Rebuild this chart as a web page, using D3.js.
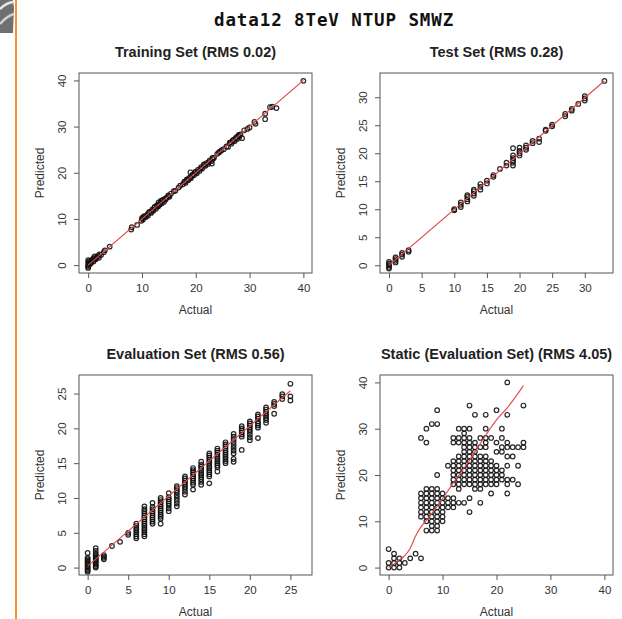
<!DOCTYPE html>
<html>
<head>
<meta charset="utf-8">
<script src="https://cdn.jsdelivr.net/npm/d3@7"></script>
<style>
  body { margin: 0; background: #fff; }
  svg { display: block; }
</style>
</head>
<body>
<div id="chart"></div>
<script>
// ---- data ----
const pageTitle = "data12 8TeV NTUP SMWZ";
const panelTitles = ["Training Set (RMS 0.02)", "Test Set (RMS 0.28)", "Evaluation Set (RMS 0.56)", "Static (Evaluation Set) (RMS 4.05)"];
const xLabel = "Actual";
const yLabel = "Predicted";

// axis limits (R uses the same range on both axes) and tick values
const panelLimits = [[-0.1, 40], [-0.06, 33], [0, 26.6], [0, 40]];
const panelTicks = [[0, 10, 20, 30, 40], [0, 5, 10, 15, 20, 25, 30], [0, 5, 10, 15, 20, 25], [0, 10, 20, 30, 40]];

// training set: actual / predicted pairs
const trainActual = [0, 0, 0, 0.1, 0, 0.2, 0, 0.3, 0.5, 0.6, 0.8, 1.0, 1.0, 1.2, 1.4, 1.6, 1.8, 2.0, 2.1, 2.4, 2.9, 3.1, 4,
  8, 8.1, 9.1, 9.9, 10.0, 10.2, 10.4, 10.7, 11.0, 11.1, 11.4, 11.7, 11.9, 12.1, 12.3, 12.6, 12.8, 13.0, 13.1, 13.3, 13.5,
  13.7, 13.9, 14.1, 14.3, 14.6, 14.9, 15.1, 15.4, 15.9, 16.2, 16.8, 17.1, 17.6, 17.9, 18.1, 18.3, 18.6, 18.9, 19.1, 19.0,
  19.4, 19.7, 19.9, 20.2, 20.4, 20.7, 21.0, 21.2, 21.5, 21.8, 22.0, 22.3, 22.6, 22.9, 23.1, 23.0, 23.4, 24.0, 24.3, 24.8,
  25.2, 25.7, 26.0, 26.3, 26.6, 26.9, 27.2, 27.4, 27.7, 27.9, 28.1, 28.3, 28.6, 29.0, 29.6, 30.0, 30.9, 31.1, 32.9, 32.9,
  33.8, 34.2, 35.0, 40,
  10.1, 10.6, 11.3, 11.8, 12.4, 12.9, 13.4, 13.8, 14.4, 15.0, 17.9, 18.5, 19.3, 20.0, 20.9, 21.6, 22.4, 23.2, 24.5, 26.5,
  27.0, 27.6, 28.0, 0.4, 0.9, 1.3];
const trainPredicted = [-0.6, -0.3, 0, 0.3, 0.6, 0.9, 1.1, 0.2, 0.4, 0.9, 1.2, 0.8, 1.5, 1.9, 1.3, 1.7, 2.0, 1.6, 2.3, 2.2, 2.8, 3.2, 4,
  7.7, 8.2, 8.7, 9.6, 10.1, 9.9, 10.6, 10.4, 11.0, 10.7, 11.5, 11.3, 12.0, 11.8, 12.5, 12.2, 13.0, 12.7, 13.6, 13.1, 13.9,
  13.4, 14.1, 13.7, 14.4, 14.6, 15.1, 14.8, 15.5, 16.0, 16.1, 16.8, 17.2, 17.5, 18.1, 17.8, 18.5, 18.4, 19.0, 18.8, 20.1,
  19.6, 19.5, 20.2, 19.9, 20.6, 20.4, 21.2, 20.9, 21.8, 21.5, 22.1, 21.9, 22.7, 22.5, 23.2, 22.0, 23.3, 24.1, 24.4, 24.9,
  25.1, 25.7, 25.6, 26.5, 26.3, 27.0, 26.8, 27.5, 27.3, 28.0, 27.8, 28.3, 27.5, 29.2, 29.5, 29.8, 31.0, 30.6, 31.6, 32.8,
  34.2, 34.3, 34.0, 39.9,
  10.3, 10.5, 11.4, 11.6, 12.6, 12.8, 13.5, 14.0, 14.2, 15.0, 18.0, 18.6, 19.3, 20.1, 20.9, 21.7, 22.3, 23.0, 24.6, 26.6,
  27.1, 27.7, 28.2, 0.6, 1.1, 1.4];
const trainFitActual = [0, 40];
const trainFitPredicted = [0, 40];

// test set: actual values and the predictions found at each
const testActual = [0, 1, 2, 3, 10, 11, 12, 13, 14, 15, 16, 17, 18, 19, 20, 21, 22, 23, 24, 25, 27, 28, 29, 30, 33];
const testPredicted = [
  [-0.6, -0.3, 0, 0.3, 0.6], [0.5, 0.8, 1.1, 1.4], [1.5, 1.9, 2.2], [2.4, 2.7], [9.8, 10.0], [10.4, 10.8, 11.2],
  [11.4, 11.8, 12.2, 12.5], [12.4, 12.8, 13.2, 13.5], [13.5, 14.0, 14.5], [14.6, 15.1], [15.8, 16.1], [17.2], [17.8, 18.3],
  [17.8, 18.3, 18.7, 19.1, 19.6, 20.9], [19.6, 20.0, 20.4, 21.0], [20.6, 21.0, 21.4], [21.8, 22.2], [22.0, 22.6],
  [24.0, 24.2], [24.8, 25.1], [26.6, 27.0], [27.6, 27.9], [28.8], [29.4, 29.8, 30.2], [32.9]];
const testFitActual = [0, 33];
const testFitPredicted = [0, 32.9];

// evaluation set
const evalActual = [0, 1, 2, 3, 4, 5, 6, 7, 8, 9, 10, 11, 12, 13, 14, 15, 16, 17, 18, 19, 20, 21, 22, 23, 24, 25];
const evalPredicted = [
  [-0.6, -0.4, -0.2, 0, 0.2, 0.4, 0.6, 0.8, 1.0, 1.2, 1.4, 2.1],
  [0.0, 0.2, 0.4, 0.6, 0.8, 1.0, 1.2, 1.4, 1.6, 1.8, 2.0, 2.4, 2.8],
  [1.2, 1.4, 1.6, 1.8],
  [3.1], [3.7], [4.7, 5.0],
  [4.2, 4.5, 4.8, 5.1, 5.4, 5.7, 6.0, 6.3],
  [4.5, 4.8, 5.1, 5.4, 5.7, 6.0, 6.3, 6.6, 6.9, 7.2, 7.5, 7.8, 8.1, 8.4, 8.8],
  [6.3, 6.6, 6.9, 7.2, 7.5, 7.8, 8.1, 8.4, 8.7, 9.3],
  [6.3, 7.0, 7.3, 7.6, 7.9, 8.2, 8.5, 8.8, 9.1, 9.4, 9.7, 10.0],
  [8.1, 8.5, 8.9, 9.2, 9.5, 9.8, 10.1, 10.7],
  [8.8, 9.2, 9.6, 10.0, 10.4, 10.8, 11.1, 11.4, 11.7],
  [10.5, 10.9, 11.3, 11.6, 11.9, 12.2, 12.5, 12.8, 13.1],
  [11.2, 11.9, 12.2, 12.5, 12.8, 13.1, 13.4, 13.7, 14.0, 14.3],
  [11.9, 12.3, 12.7, 13.0, 13.3, 13.6, 13.9, 14.2, 14.5, 14.8, 15.2],
  [12.1, 13.1, 13.4, 13.7, 14.0, 14.3, 14.6, 14.9, 15.2, 15.5, 15.8, 16.1, 16.4],
  [13.8, 14.4, 14.7, 15.0, 15.3, 15.6, 15.9, 16.2, 16.5, 16.8, 17.1],
  [15.0, 15.3, 15.6, 15.9, 16.2, 16.5, 16.8, 17.1, 17.4, 17.7, 18.0],
  [15.2, 15.6, 16.4, 16.8, 17.2, 17.6, 18.0, 18.4, 18.8, 19.2],
  [16.9, 18.8, 19.1, 19.4, 19.7, 20.0, 20.3],
  [18.3, 18.7, 19.1, 19.5, 19.8, 20.1, 20.4, 20.7, 21.0],
  [18.6, 20.1, 20.4, 20.7, 21.0, 21.4, 21.7, 22.0],
  [20.8, 21.2, 21.5, 21.8, 22.1, 22.4, 22.7, 23.0],
  [22.1, 23.2, 23.5, 23.8],
  [24.2, 24.6, 24.9],
  [24.0, 24.6, 26.4]];
const evalFitActual = [0, 25];
const evalFitPredicted = [0.2, 25.4];

// static prediction on the evaluation set (integer grid)
const staticActual = [0, 1, 2, 3, 4, 5, 6, 7, 8, 9, 10, 11, 12, 13, 14, 15, 16, 17, 18, 19, 20, 21, 22, 23, 24, 25];
const staticPredicted = [
  [0, 1, 4], [0, 1, 2, 3], [0, 1, 2], [1], [2], [3],
  [2, 11, 12, 13, 14, 15, 16, 28],
  [8, 10, 11, 12, 13, 14, 15, 16, 17, 27, 30],
  [8, 9, 10, 11, 12, 13, 14, 15, 16, 17, 31],
  [8, 9, 10, 11, 12, 13, 14, 15, 16, 17, 20, 31, 34],
  [10, 11, 12, 13, 14, 15, 16],
  [13, 14, 15, 22],
  [13, 14, 15, 18, 19, 20, 21, 22, 23, 27, 28],
  [14, 17, 18, 19, 20, 21, 22, 23, 24, 27, 28, 30],
  [14, 18, 19, 20, 21, 22, 23, 24, 25, 26, 27, 28, 29, 30],
  [12, 15, 18, 19, 20, 21, 22, 23, 24, 25, 26, 27, 28, 30, 35],
  [17, 18, 19, 20, 21, 22, 23, 24, 25, 26, 27, 33],
  [14, 17, 18, 19, 20, 21, 22, 23, 24, 26, 28],
  [18, 19, 20, 21, 22, 23, 24, 26, 27, 28, 30, 33],
  [16, 18, 19, 20, 21, 22, 23, 28],
  [18, 19, 20, 21, 22, 25, 27, 34],
  [19, 20, 21, 25, 26, 28, 30],
  [16, 18, 19, 22, 24, 26, 27, 33, 40],
  [19, 24, 26],
  [18, 22, 26],
  [26, 27, 35]];
const staticFitActual = [0, 1, 2, 3, 4, 5, 6, 7, 9, 12, 15, 18, 20, 22, 25];
const staticFitPredicted = [0, 0.8, 1.7, 2.6, 4.2, 6.8, 8.8, 10.2, 13.2, 18.3, 23.2, 28.6, 31.9, 34.5, 39.3];

// ---- helpers ----
function pairs(xs, ys) {
  return xs.map((x, i) => ({ x: x, y: ys[i] }));
}
function columns(xs, yLists) {
  return xs.flatMap((x, i) => yLists[i].map(y => ({ x: x, y: y })));
}

const width = 622, height = 619;
const boxW = 233, boxH = 200;
const font = "'Liberation Sans', Arial, sans-serif";

const svg = d3.select("#chart")
  .append("svg")
  .attr("width", width)
  .attr("height", height);

// left page decoration (cut-off logo and orange rule)
svg.append("path")
  .attr("d", "M0,0 L13,0 L14,8 L13,33 L0,33 Z")
  .attr("fill", "#707070");
svg.append("path")
  .attr("d", "M0,9 Q6,3 13,2")
  .attr("fill", "none").attr("stroke", "#e6e6e6").attr("stroke-width", 2.5);
svg.append("path")
  .attr("d", "M0,24 Q7,16 14,14")
  .attr("fill", "none").attr("stroke", "#d0d0d0").attr("stroke-width", 2.5);
svg.append("line")
  .attr("x1", 16).attr("x2", 16).attr("y1", 0).attr("y2", height)
  .attr("stroke", "#f7922a").attr("stroke-width", 2);

svg.append("text")
  .attr("x", 214)
  .attr("y", 26)
  .style("font-family", "'DejaVu Sans Mono', monospace")
  .style("font-weight", "bold")
  .style("font-size", "17.5px")
  .style("letter-spacing", "0.9px")
  .attr("fill", "#111")
  .text(pageTitle);

const panels = [
  { left: 79, top: 73, points: pairs(trainActual, trainPredicted), fit: pairs(trainFitActual, trainFitPredicted) },
  { left: 380, top: 73, points: columns(testActual, testPredicted), fit: pairs(testFitActual, testFitPredicted) },
  { left: 79, top: 375, points: columns(evalActual, evalPredicted), fit: pairs(evalFitActual, evalFitPredicted) },
  { left: 380, top: 375, points: columns(staticActual, staticPredicted), fit: pairs(staticFitActual, staticFitPredicted) }
];

panels.forEach((p, i) => drawPanel(p, i));

function drawPanel(p, i) {
  const lim = panelLimits[i];
  const pad = (lim[1] - lim[0]) * 0.04;
  const x = d3.scaleLinear().domain([lim[0] - pad, lim[1] + pad]).range([0, boxW]);
  const y = d3.scaleLinear().domain([lim[0] - pad, lim[1] + pad]).range([boxH, 0]);

  const g = svg.append("g").attr("transform", `translate(${p.left},${p.top})`);

  // title
  g.append("text")
    .attr("x", boxW / 2)
    .attr("y", -16)
    .attr("text-anchor", "middle")
    .style("font-family", font)
    .style("font-weight", "bold")
    .style("font-size", "14.5px")
    .attr("fill", "#222")
    .text(panelTitles[i]);

  // points
  g.append("g")
    .selectAll("circle")
    .data(p.points)
    .enter().append("circle")
    .attr("cx", d => x(d.x))
    .attr("cy", d => y(d.y))
    .attr("r", 2.3)
    .attr("fill", "none")
    .attr("stroke", "#111")
    .attr("stroke-opacity", 0.9)
    .attr("stroke-width", 1.2);

  // fitted line
  const line = d3.line()
    .x(d => x(d.x))
    .y(d => y(d.y))
    .curve(d3.curveMonotoneX);
  g.append("path")
    .datum(p.fit)
    .attr("d", line)
    .attr("fill", "none")
    .attr("stroke", "#e04848")
    .attr("stroke-width", 1.1);

  // frame
  g.append("rect")
    .attr("width", boxW)
    .attr("height", boxH)
    .attr("fill", "none")
    .attr("stroke", "#555")
    .attr("stroke-width", 1);

  // x axis
  const xa = g.append("g")
    .attr("transform", `translate(0,${boxH})`)
    .call(d3.axisBottom(x).tickValues(panelTicks[i]).tickSize(5).tickPadding(6).tickSizeOuter(0));
  xa.select(".domain").remove();
  xa.selectAll("line").attr("stroke", "#555");
  xa.selectAll("text")
    .style("font-family", font)
    .style("font-size", "11.5px")
    .attr("fill", "#333");

  // y axis, labels parallel to the axis like R
  const ya = g.append("g")
    .call(d3.axisLeft(y).tickValues(panelTicks[i]).tickSize(5).tickSizeOuter(0));
  ya.select(".domain").remove();
  ya.selectAll("line").attr("stroke", "#555");
  ya.selectAll("text")
    .attr("x", null)
    .attr("dy", null)
    .attr("transform", "translate(-13,0) rotate(-90)")
    .attr("text-anchor", "middle")
    .style("font-family", font)
    .style("font-size", "11.5px")
    .attr("fill", "#333");

  g.append("text")
    .attr("x", boxW / 2)
    .attr("y", boxH + 41)
    .attr("text-anchor", "middle")
    .style("font-family", font)
    .style("font-size", "12px")
    .attr("fill", "#333")
    .text(xLabel);

  g.append("text")
    .attr("transform", `translate(-35,${boxH / 2}) rotate(-90)`)
    .attr("text-anchor", "middle")
    .style("font-family", font)
    .style("font-size", "12px")
    .attr("fill", "#333")
    .text(yLabel);
}
</script>
</body>
</html>
